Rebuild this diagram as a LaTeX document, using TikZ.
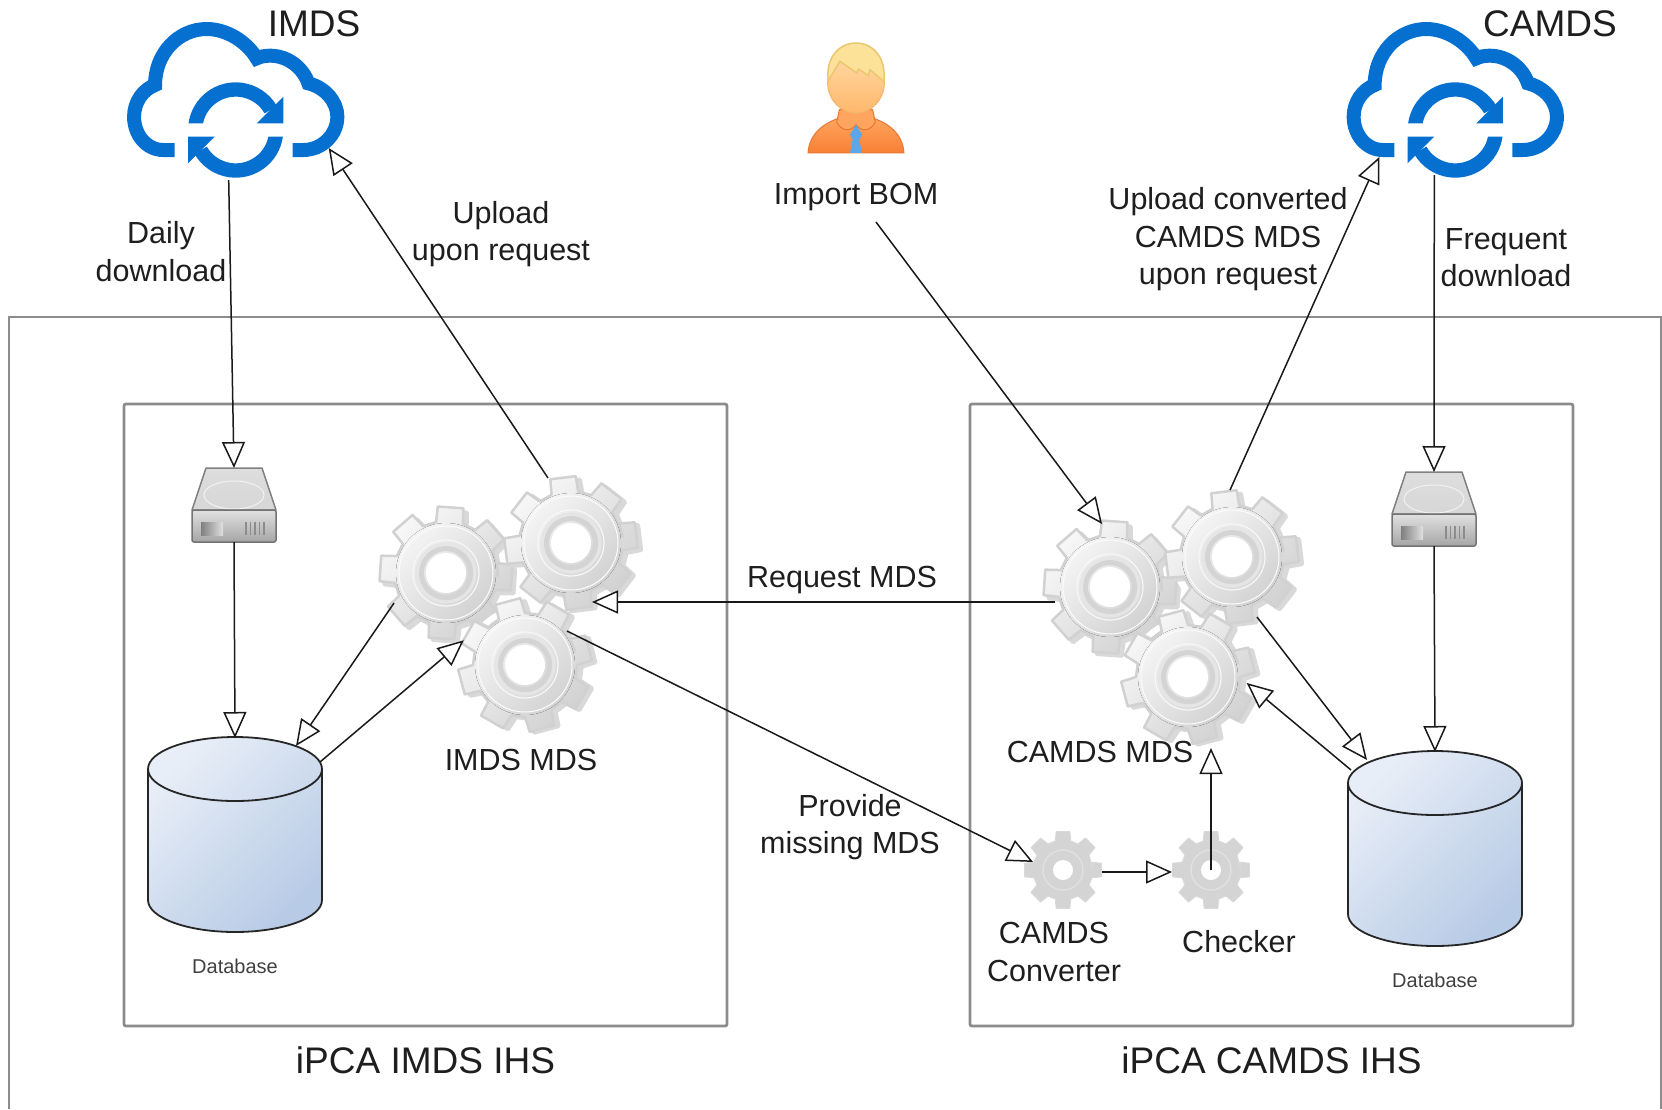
\documentclass[tikz,border=0pt]{standalone}
\usepackage{fontspec}
\setmainfont{Liberation Sans}
\usetikzlibrary{positioning,calc,arrows.meta}
\definecolor{cloudblue}{RGB}{6,112,209}
\definecolor{inktext}{RGB}{30,30,30}
\definecolor{dbtop}{RGB}{232,238,247}
\definecolor{dbbottom}{RGB}{184,203,230}
\definecolor{skintop}{RGB}{255,218,165}
\definecolor{skinbottom}{RGB}{255,184,108}
\definecolor{skinline}{RGB}{244,180,110}
\definecolor{shirttop}{RGB}{255,165,95}
\definecolor{shirtbottom}{RGB}{248,128,52}
\definecolor{shirtline}{RGB}{232,120,50}
\definecolor{hairfill}{RGB}{251,226,152}
\definecolor{hairline}{RGB}{236,198,112}
\definecolor{tieblue}{RGB}{92,166,234}
\tikzset{
  lbl/.style={align=center, text=inktext, inner sep=0pt, font=\fontsize{30.5}{37.5}\selectfont},
  biglbl/.style={align=center, text=inktext, inner sep=0pt, font=\fontsize{37}{40}\selectfont},
  smalllbl/.style={align=center, text=black!75, inner sep=0pt, font=\fontsize{20}{24}\selectfont},
  iconbox/.style={inner sep=0pt, outer sep=0pt},
  hostbox/.style={draw=black!45, line width=2.8pt, rounded corners=2pt, inner sep=0pt, outer sep=0pt, minimum width=603pt, minimum height=622pt},
  conn/.style={draw=black!90, line width=1.5pt, -{Triangle[open, fill=white, length=26pt, width=23pt, line width=1.5pt]}},
  gearbody/.style={draw=black!18, line width=2.5pt, line join=round, top color=black!3, bottom color=black!18, shading angle=45},
  cloudpic/.pic={
    \begin{scope}[x=.3333pt, y=-.3333pt]
      \draw[cloudblue, line width=14pt] (-183,60) -- (-217,60) .. controls (-267,60) and (-305,15) .. (-305,-40)
        .. controls (-305,-85) and (-277,-122) .. (-242,-135) .. controls (-242,-230) and (-172,-303) .. (-87,-303)
        .. controls (-27,-303) and (33,-265) .. (63,-215) .. controls (73,-220) and (88,-223) .. (103,-223)
        .. controls (158,-223) and (203,-185) .. (218,-140) .. controls (268,-128) and (305,-85) .. (305,-40)
        .. controls (305,15) and (258,60) .. (203,60) -- (171,60);
      \foreach \turn in {0,180} {
        \begin{scope}[rotate=\turn]
          \fill[cloudblue] (-141.6,-20) arc[start angle=188, end angle=330, radius=143]
            -- (86.6,-50) arc[start angle=330, end angle=191.5, radius=100] -- cycle;
          \fill[cloudblue] (143,-100) -- (143,-20) -- (63,-20) -- cycle;
        \end{scope}
      }
    \end{scope}
  },
  gearpic/.pic={
    \draw[white, line width=6pt] (0,0) circle (57);
    \draw[black!15, line width=4pt, line join=round, fill=black!15, xshift=4pt, yshift=-3pt] (0:52) \foreach \a in {0,45,...,315} { -- (\a-15:52) -- (\a-11:66) -- (\a+11:66) -- (\a+15:52) } -- cycle;
    \draw[gearbody] (0:52) \foreach \a in {0,45,...,315} { -- (\a-15:52) -- (\a-11:67) -- (\a+11:67) -- (\a+15:52) } -- cycle;
    \fill[top color=black!4, bottom color=black!18, shading angle=45] (0,0) circle (50);
    \draw[black!1, line width=1pt] (0,0) circle (47);
    \draw[black!3, line width=1.2pt] (0,0) circle (33);
    \draw[black!10, line width=3pt] (0,0) circle (29);
    \draw[black!17, line width=5pt] (0,0) circle (24.5);
    \fill[white] (0,0) circle (20);
  },
  smallgearpic/.pic={
    \draw[black!15, line width=1pt, line join=round, fill=black!17] (0:30) \foreach \a in {0,45,...,315} { -- (\a-15:30) -- (\a-10:39) -- (\a+10:39) -- (\a+15:30) } -- cycle;
    \draw[black!12, line width=1.5pt] (0,0) circle (20);
    \fill[white] (0,0) circle (10);
  },
  diskpic/.pic={
    \draw[black!50, line width=1.5pt, line join=round, top color=black!13, bottom color=black!16] (-28,-37) -- (28,-37) -- (42,5) -- (-42,5) -- cycle;
    \draw[black!5, line width=1pt] (0,-10) ellipse (30 and 14);
    \draw[black!55, line width=1.5pt, rounded corners=2pt, top color=black!12, bottom color=black!35] (-42,5) rectangle (42,37);
    \fill[left color=black!50, right color=black!12] (-33,17) rectangle (-11,30);
    \foreach \gx in {12,16.5,...,34} { \draw[black!45, line width=1.2pt] (\gx,17) -- (\gx,30); }
  },
  dbpic/.pic={
    \draw[black!85, line width=1.8pt, top color=dbtop, bottom color=dbbottom, shading angle=45]
      (-87,-66) -- (-87,65) arc[start angle=180, end angle=0, x radius=87, y radius=32] -- (87,-66) arc[start angle=0, end angle=-180, x radius=87, y radius=32] -- cycle;
    \draw[black!85, line width=1.8pt] (-87,-66) arc[start angle=180, end angle=0, x radius=87, y radius=32];
  },
  personpic/.pic={
    \begin{scope}[x=.3333pt, y=-.3333pt]
      \draw[shirtline, line width=1pt, top color=shirttop, bottom color=shirtbottom] (-144,210) .. controls (-140,150) and (-95,120) .. (-50,105) -- (50,105) .. controls (95,120) and (140,150) .. (144,210) -- cycle;
      \draw[shirtline, line width=1pt, fill=shirttop] (-50,80) -- (-58,118) .. controls (-40,148) and (-15,145) .. (0,125) .. controls (15,145) and (40,148) .. (58,118) -- (50,80) -- cycle;
      \fill[tieblue] (0,125) -- (-18,155) -- (-10,170) -- (-18,210) -- (18,210) -- (10,170) -- (18,155) -- cycle;
      \draw[skinline, line width=1pt, top color=skintop, bottom color=skinbottom] (0,0) ellipse (85 and 90);
      \draw[hairline, line width=1.5pt, fill=hairfill] (-83,-8) .. controls (-92,-70) and (-55,-120) .. (0,-120) .. controls (55,-120) and (92,-70) .. (83,-5)
        -- (42,-40) -- (37,-22) -- (8,-42) -- (2,-30) -- (-48,-65) -- cycle;
    \end{scope}
  }
}
\begin{document}
\begin{tikzpicture}[x=1pt, y=-1pt, on grid]
  \useasboundingbox (0,0) rectangle (1662,1109);
  % hosts
  \draw[black!45, line width=2.8pt] (9,1109) -- (9,317) -- (1661,317) -- (1661,1109);
  \node[hostbox] (boxL) at (425.5,715) {};
  \node[hostbox, right=846pt of boxL] (boxR) {};
  \node[biglbl, below=345pt of boxL] (ihsL) {iPCA IMDS IHS};
  \node[biglbl, below=345pt of boxR] (ihsR) {iPCA CAMDS IHS};

  % clouds and user
  \node[iconbox, minimum width=216pt, minimum height=100pt] (cloudL) at (235.7,130) {};
  \node[iconbox, minimum width=216pt, minimum height=100pt, right=1219.6pt of cloudL] (cloudR) {};
  \pic at (cloudL) {cloudpic};
  \pic at (cloudR) {cloudpic};
  \node[biglbl] (imds) at (314,24) {IMDS};
  \node[biglbl] (camds) at (1550,24) {CAMDS};
  \node[iconbox, minimum size=96pt] (person) at (856,83) {};
  \pic at (person) {personpic};
  \node[lbl, below=114pt of person] (importbom) {Import BOM};

  % disks
  \node[iconbox, minimum width=84pt, minimum height=74pt] (diskL) at (234,505) {};
  \node[iconbox, minimum width=84pt, minimum height=74pt, below right=4pt and 1200pt of diskL] (diskR) {};
  \pic at (diskL) {diskpic};
  \pic at (diskR) {diskpic};

  % databases
  \node[iconbox, minimum width=174pt, minimum height=194pt] (dbL) at (235,835) {};
  \node[iconbox, minimum width=174pt, minimum height=194pt, below right=14pt and 1200pt of dbL] (dbR) {};
  \pic at (dbL) {dbpic};
  \pic at (dbR) {dbpic};
  \node[smalllbl, below=131pt of dbL] (dbtextL) {Database};
  \node[smalllbl, below=131pt of dbR] (dbtextR) {Database};

  % gears
  \node[iconbox, circle, minimum size=130pt] (gearA) at (446,573) {};
  \node[iconbox, circle, minimum size=130pt, above right=30pt and 125pt of gearA] (gearB) {};
  \node[iconbox, circle, minimum size=130pt, below right=92pt and 79pt of gearA] (gearC) {};
  \node[iconbox, circle, minimum size=130pt] (gearAr) at (1110,587) {};
  \node[iconbox, circle, minimum size=130pt, above right=30pt and 122pt of gearAr] (gearBr) {};
  \node[iconbox, circle, minimum size=130pt, below right=90pt and 78pt of gearAr] (gearCr) {};
  \pic[rotate=-4] at (gearA) {gearpic};
  \pic[rotate=7] at (gearB) {gearpic};
  \pic[rotate=15] at (gearC) {gearpic};
  \pic[rotate=-4] at (gearAr) {gearpic};
  \pic[rotate=7] at (gearBr) {gearpic};
  \pic[rotate=15] at (gearCr) {gearpic};
  \node[iconbox, circle, minimum size=78pt] (conv) at (1063,870) {};
  \node[iconbox, circle, minimum size=78pt, right=148pt of conv] (check) {};
  \pic at (conv) {smallgearpic};
  \pic at (check) {smallgearpic};

  % labels
  \node[lbl] (daily) at (161,251.5) {Daily\\download};
  \node[lbl] (upload) at (501,234) {Upload\\upon request};
  \node[lbl] (uploadconv) at (1228,239.5) {Upload converted\\CAMDS MDS\\upon request};
  \node[lbl] (frequent) at (1506,257.5) {Frequent\\download};
  \node[lbl] (reqmds) at (842,580) {Request MDS};
  \node[lbl] (missing) at (850,827) {Provide\\missing MDS};
  \node[lbl, below right=187pt and 75pt of gearA] (imdsmds) {IMDS MDS};
  \node[lbl] (camdsmds) at (1100,752) {CAMDS MDS};
  \node[lbl] (convtext) at (1054,952) {CAMDS\\Converter};
  \node[lbl] (checktext) at (1239,941.5) {Checker};

  % connectors
  \draw[conn] ([xshift=-7pt]cloudL.south) -- (diskL.north);
  \draw[conn] (diskL.south) -- (dbL.north);
  \draw[conn] ($(gearA)+(210:60pt)$) -- ($(dbL.north)+(61pt,-8pt)$);
  \draw[conn] ($(dbL.north)+(85pt,-24pt)$) -- ($(gearC)+(158:66pt)$);
  \draw[conn] ($(gearB)+(109.5:69pt)$) -- ($(cloudL.east)+(-15pt,-18pt)$);
  \draw[conn] ($(gearAr)+(-55pt,-15pt)$) -- ($(gearB)+(21pt,-59pt)$);
  \draw[conn] ($(gearC)+(39:54pt)$) -- ($(conv)+(165:31pt)$);
  \draw[conn] ([yshift=-2pt]conv.east) -- ([yshift=-2pt]check.west);
  \draw[conn] (check.center) -- ($(gearCr)+(23pt,-71pt)$);
  \draw[conn] ($(importbom.south)+(20pt,-11pt)$) -- ($(gearAr)+(97.2:63.5pt)$);
  \draw[conn] ($(gearBr)+(91.7:67pt)$) -- ($(cloudR.west)+(32pt,-27pt)$);
  \draw[conn] ([xshift=-21pt,yshift=5pt]cloudR.south) -- (diskR.north);
  \draw[conn] (diskR.south) -- (dbR.north);
  \draw[conn] ($(gearBr)+(-67.4:65pt)$) -- ($(dbR.north)+(-68pt,-8pt)$);
  \draw[conn] ($(dbR.north)+(-84pt,-18pt)$) -- ($(gearCr)+(-5.8:59pt)$);
\end{tikzpicture}
\end{document}
